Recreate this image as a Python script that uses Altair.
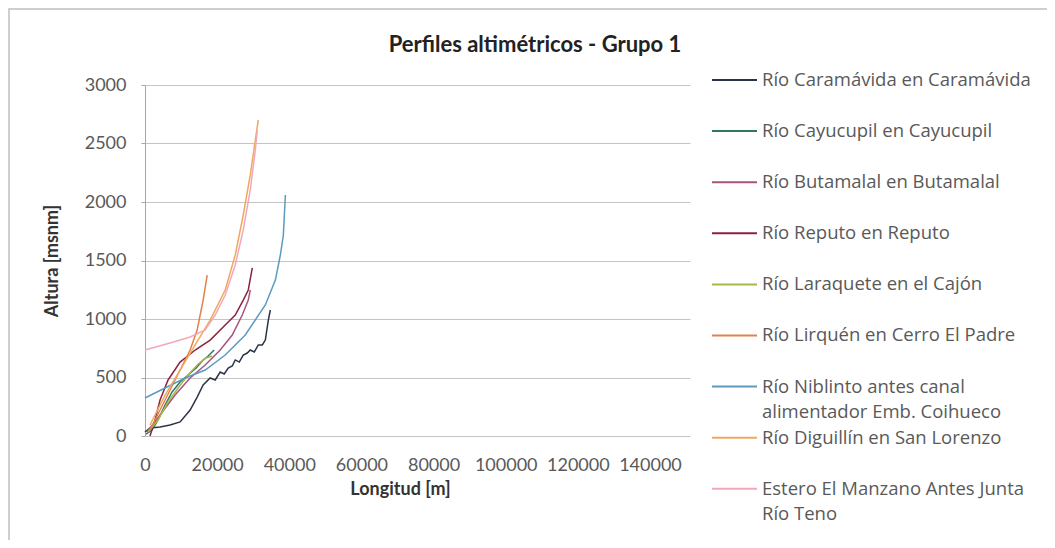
import altair as alt
import pandas as pd

TITLE = "Perfiles altimétricos - Grupo 1"
X_TITLE = "Longitud [m]"
Y_TITLE = "Altura [msnm]"
X_TICKS = [0, 20000, 40000, 60000, 80000, 100000, 120000, 140000]
Y_TICKS = [0, 500, 1000, 1500, 2000, 2500, 3000]

SERIES = [
    "Río Caramávida en Caramávida",
    "Río Cayucupil en Cayucupil",
    "Río Butamalal en Butamalal",
    "Río Reputo en Reputo",
    "Río Laraquete en el Cajón",
    "Río Lirquén en Cerro El Padre",
    "Río Niblinto antes canal alimentador Emb. Coihueco",
    "Río Diguillín en San Lorenzo",
    "Estero El Manzano Antes Junta Río Teno",
]
LEGEND_LABELS = [
    "Río Caramávida en Caramávida",
    "Río Cayucupil en Cayucupil",
    "Río Butamalal en Butamalal",
    "Río Reputo en Reputo",
    "Río Laraquete en el Cajón",
    "Río Lirquén en Cerro El Padre",
    "Río Niblinto antes canal\nalimentador Emb. Coihueco",
    "Río Diguillín en San Lorenzo",
    "Estero El Manzano Antes Junta\nRío Teno",
]
COLORS = ["#2b3446", "#2f7665", "#a8547f", "#8c2340", "#a8b84a",
          "#e0824a", "#5b9bbf", "#f0a860", "#f2a8b8"]

X_CARAMAVIDA = [0, 1390, 4170, 6950, 9730, 12510, 14460, 16120, 18070, 19460, 20850, 21960, 23070,
                24190, 25020, 26130, 27240, 28360, 29190, 30300, 31410, 32530, 33360, 34190, 34750]
Y_CARAMAVIDA = [34, 68, 77, 94, 120, 222, 333, 436, 496, 479, 547, 530, 581,
                598, 650, 632, 692, 709, 735, 718, 778, 778, 820, 991, 1077]
X_CAYUCUPIL = [280, 1950, 3620, 5560, 7510, 9730, 11950, 14180, 16120, 17510, 19180]
Y_CAYUCUPIL = [17, 51, 137, 265, 376, 462, 521, 581, 650, 684, 735]
X_BUTAMALAL = [560, 4170, 8340, 12510, 16680, 20850, 24190, 26970, 28630, 29190]
Y_BUTAMALAL = [34, 179, 350, 496, 607, 735, 863, 1034, 1162, 1248]
X_REPUTO = [1390, 2780, 4170, 6390, 9730, 13900, 18070, 22240, 25020, 27240, 28630, 29750]
Y_REPUTO = [0, 137, 308, 479, 632, 735, 820, 949, 1034, 1162, 1248, 1436]
X_LARAQUETE = [830, 3610, 6390, 9170, 11950, 14730, 16960, 18630]
Y_LARAQUETE = [34, 137, 291, 410, 521, 615, 667, 684]
X_LIRQUEN = [1390, 4170, 6950, 9730, 12510, 14460, 16120, 17240]
Y_LIRQUEN = [51, 222, 393, 564, 735, 906, 1162, 1376]
X_NIBLINTO = [0, 5560, 11120, 16680, 22240, 27800, 33360, 36140, 37530, 38360, 38920]
Y_NIBLINTO = [325, 410, 496, 564, 692, 863, 1120, 1333, 1547, 1718, 2060]
X_DIGUILLIN = [1390, 5560, 9730, 13900, 18070, 22240, 25020, 27240, 29190, 30580, 31410]
Y_DIGUILLIN = [94, 350, 564, 778, 991, 1248, 1547, 1889, 2231, 2530, 2701]
X_ESTERO = [0, 6950, 12510, 16680, 19460, 22240, 25020, 27240, 29190, 30580, 31140]
Y_ESTERO = [735, 795, 846, 906, 1034, 1205, 1462, 1761, 2103, 2444, 2615]

XS = [X_CARAMAVIDA, X_CAYUCUPIL, X_BUTAMALAL, X_REPUTO, X_LARAQUETE,
      X_LIRQUEN, X_NIBLINTO, X_DIGUILLIN, X_ESTERO]
YS = [Y_CARAMAVIDA, Y_CAYUCUPIL, Y_BUTAMALAL, Y_REPUTO, Y_LARAQUETE,
      Y_LIRQUEN, Y_NIBLINTO, Y_DIGUILLIN, Y_ESTERO]

rows = []
for name, xs, ys in zip(SERIES, XS, YS):
    for i, (xv, yv) in enumerate(zip(xs, ys)):
        rows.append({"serie": name, "longitud": xv, "altura": yv, "orden": i})
df = pd.DataFrame(rows)

leg = pd.DataFrame({"serie": SERIES, "label": LEGEND_LABELS, "idx": list(range(len(SERIES)))})

FONT = "Lato"
LEG_FONT = "Open Sans"
GRAY = "#595959"
W, H = 545, 351
color_scale = alt.Scale(domain=SERIES, range=COLORS)

lines = alt.Chart(df).mark_line(strokeWidth=1.5).encode(
    x=alt.X("longitud:Q",
            scale=alt.Scale(domain=[0, 151100], nice=False),
            axis=alt.Axis(values=X_TICKS, title=X_TITLE, format="d", grid=False,
                          domain=False, ticks=False, labelPadding=20, titlePadding=6,
                          titleX=255, labelFlush=False, labelOverlap=False)),
    y=alt.Y("altura:Q",
            scale=alt.Scale(domain=[0, 3000], nice=False),
            axis=alt.Axis(values=Y_TICKS, title=Y_TITLE, format="d", grid=True,
                          tickSize=4, labelPadding=15, titlePadding=23)),
    color=alt.Color("serie:N", scale=color_scale, legend=None),
    order=alt.Order("orden:Q"),
)

leg_y = alt.Y("idx:Q", scale=alt.Scale(domain=[0.098, 6.967], reverse=True, nice=False, zero=False),
              axis=None)

leg_rules = alt.Chart(leg).mark_rule(strokeWidth=2).encode(
    x=alt.value(567), x2=alt.value(612), y=leg_y,
    color=alt.Color("serie:N", scale=color_scale, legend=None),
)
leg_text = alt.Chart(leg).mark_text(
    align="left", baseline="top", dy=-9, lineBreak="\n", lineHeight=25,
    fontSize=18.5, font=LEG_FONT, color=GRAY,
).encode(x=alt.value(617), y=leg_y, text="label:N")

title_df = pd.DataFrame({"t": [TITLE]})
title_mark = alt.Chart(title_df).mark_text(
    align="center", baseline="middle", fontSize=22, font=FONT, fontWeight="bold",
    color="#222222",
).encode(x=alt.value(390), y=alt.value(-40), text="t:N")

frame = alt.Chart(pd.DataFrame({"a": [0]})).mark_rect(
    fill=None, stroke="#bfbfbf", strokeWidth=1.5
).encode(x=alt.value(-136), x2=alt.value(1000), y=alt.value(-76), y2=alt.value(1000))

chart = alt.layer(frame, lines, leg_rules, leg_text, title_mark).resolve_scale(
    y="independent"
).properties(
    width=W, height=H,
    autosize=alt.AutoSizeParams(type="none"),
    padding={"left": 137, "top": 77, "right": 357, "bottom": 104},
).configure_view(stroke=None).configure_axis(
    labelFont=FONT, labelFontSize=18, labelColor=GRAY,
    titleFont=FONT, titleFontSize=18, titleFontWeight="bold", titleColor="#333333",
    gridColor="#c4c4c4", gridWidth=1.2, domainColor="#a6a6a6", tickColor="#a6a6a6",
)

chart.save("out.html", embed_options={"renderer": "svg", "actions": False})
